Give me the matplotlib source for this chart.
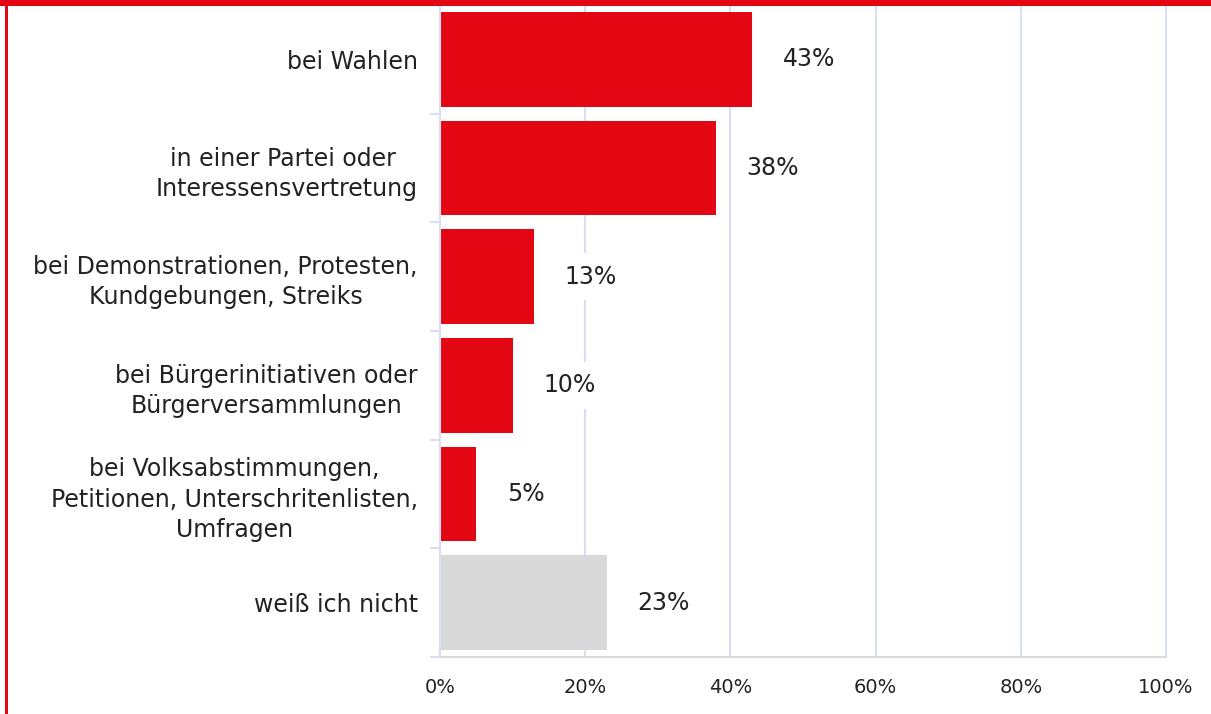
import matplotlib.pyplot as plt
from matplotlib.patches import Rectangle
from matplotlib.ticker import FuncFormatter

plt.rcParams['font.family'] = ['DejaVu Sans']

categories = [
    'bei Wahlen',
    'in einer Partei oder \nInteressensvertretung',
    'bei Demonstrationen, Protesten,\nKundgebungen, Streiks',
    'bei Bürgerinitiativen oder\nBürgerversammlungen',
    'bei Volksabstimmungen,\nPetitionen, Unterschritenlisten,\nUmfragen',
    'weiß ich nicht',
]
values = [43, 38, 13, 10, 5, 23]
colors = ['#E30613'] * 5 + ['#D9D9D9']

red = '#E30613'
grid_col = '#D9DEF2'
text_col = '#222222'

fig = plt.figure(figsize=(12.11, 7.14), dpi=100)
ax = fig.add_axes([440 / 1211, 1 - 657 / 714, 726 / 1211, 652 / 714])

y = list(range(len(categories)))
ax.barh(y, values, height=0.87, color=colors)
ax.set_ylim(len(categories) - 0.5, -0.5)
ax.set_xlim(0, 100)

ax.set_xticks([0, 20, 40, 60, 80, 100])
ax.xaxis.set_major_formatter(FuncFormatter(lambda v, p: f'{v:.0f}%'))
ax.tick_params(axis='x', length=0, pad=15, labelsize=14, labelcolor=text_col)

ax.set_yticks(y)
ax.set_yticklabels(categories, fontsize=17, color=text_col, linespacing=1.33)
for lbl in ax.get_yticklabels():
    lbl.set_multialignment('center')
ax.tick_params(axis='y', which='major', length=0, pad=16)
ax.set_yticks([i - 0.5 for i in range(len(categories) + 1)], minor=True)
ax.tick_params(axis='y', which='minor', length=7, width=1.5, color=grid_col)

ax.set_axisbelow(True)
ax.grid(axis='x', color=grid_col, linewidth=1.5)
for gl in ax.get_xgridlines():
    gl.set_clip_on(False)
for s in ['top', 'right']:
    ax.spines[s].set_visible(False)
ax.spines['left'].set_color(grid_col)
ax.spines['left'].set_linewidth(1.5)
ax.spines['bottom'].set_color('#D9D9D9')
ax.spines['bottom'].set_linewidth(1.5)

for yi, v in zip(y, values):
    ax.annotate(f'{v}%', xy=(v, yi), xytext=(22, 0), textcoords='offset points',
                ha='left', va='center', fontsize=17, color=text_col,
                bbox=dict(boxstyle='square,pad=0.5', fc='white', ec='none'))

# red frame: top bar and left line
fig.add_artist(Rectangle((0, 1 - 5.5 / 714), 1, 5.5 / 714, transform=fig.transFigure,
                         color=red, lw=0, zorder=10))
fig.add_artist(Rectangle((5 / 1211, 0), 2.5 / 1211, 1, transform=fig.transFigure,
                         color=red, lw=0, zorder=10))

fig.savefig('out.png', dpi=100)
